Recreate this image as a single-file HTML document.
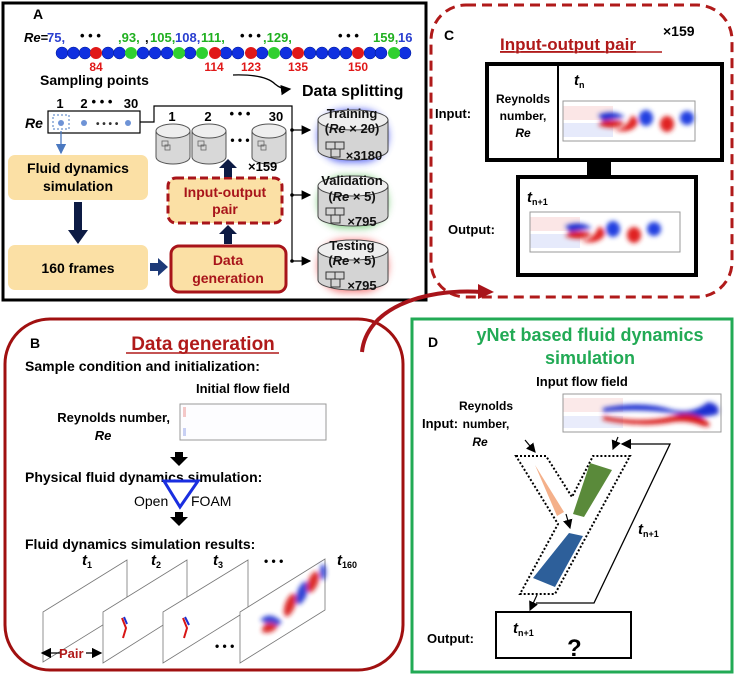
<!DOCTYPE html>
<html><head><meta charset="utf-8"><style>
body{margin:0;background:#fff}
svg{display:block;font-family:"Liberation Sans",Arial,sans-serif;font-weight:bold}
</style></head><body>
<svg width="736" height="677" viewBox="0 0 736 677" xmlns="http://www.w3.org/2000/svg">
<defs>
<filter id="bl" x="-50%" y="-50%" width="200%" height="200%"><feGaussianBlur stdDeviation="2.5"/></filter>
<filter id="gl" x="-30%" y="-30%" width="160%" height="160%"><feGaussianBlur stdDeviation="4"/></filter>
<marker id="ah" markerWidth="8" markerHeight="8" refX="7" refY="4" orient="auto"><path d="M0,0 L8,4 L0,8 z" fill="#000"/></marker>
<marker id="ahb" markerWidth="8" markerHeight="8" refX="7" refY="4" orient="auto"><path d="M0,0 L8,4 L0,8 z" fill="#4a78c0"/></marker>
<g id="flow">
<rect x="0" y="0" width="132" height="40" fill="#fff"/>
<rect x="0" y="5" width="50" height="14" fill="#fbe6e6"/><rect x="0" y="22" width="50" height="14" fill="#e6eafb"/>
<g filter="url(#bl)">
<path d="M35,14 Q50,8 62,16 L40,20 z" fill="#1b2fd0"/>
<path d="M35,24 Q50,30 62,22 Q55,18 40,20z" fill="#d81515"/>
<path d="M50,28 Q62,30 68,16 Q72,12 75,22 Q70,32 55,30z" fill="#e02020"/>
<ellipse cx="83" cy="17" rx="7" ry="8" fill="#2040e0"/>
<ellipse cx="104" cy="23" rx="7" ry="8" fill="#e02020"/>
<ellipse cx="124" cy="17" rx="7" ry="7" fill="#2040e0"/>
</g>
</g>
<g id="flow2">
<rect x="0" y="0" width="158" height="38" fill="#fff"/>
<rect x="0" y="4" width="60" height="14" fill="#fbe9e9"/><rect x="0" y="22" width="60" height="12" fill="#e9ecfb"/>
<g filter="url(#bl)">
<path d="M40,14 Q80,6 110,16 Q130,20 145,8 Q158,10 155,20 Q135,26 115,20 Q80,14 40,18z" fill="#1b2fd0"/>
<path d="M40,22 Q80,30 110,22 Q130,16 145,28 Q150,34 140,32 Q125,26 110,28 Q80,34 40,26z" fill="#d81515"/>
</g>
</g>
<g id="db">
<path d="M0,8 L0,34 A17,7 0 0 0 34,34 L34,8" fill="#d8d8d8" stroke="#555"/>
<ellipse cx="17" cy="8" rx="17" ry="7" fill="#eee" stroke="#555"/>
<rect x="6" y="18" width="6" height="5" fill="none" stroke="#666" stroke-width="0.8"/><rect x="9" y="22" width="5" height="5" fill="none" stroke="#666" stroke-width="0.8"/>
</g>
<g id="bigdb">
<path d="M-35,10 L-35,40 A35,10 0 0 0 35,40 L35,10" fill="#d4d4d4" stroke="#444"/>
<ellipse cx="0" cy="10" rx="35" ry="10" fill="#eee" stroke="#444"/>
<rect x="-27" y="32" width="9" height="7" fill="none" stroke="#333"/><rect x="-18" y="32" width="9" height="7" fill="none" stroke="#333"/><rect x="-22" y="39" width="9" height="8" fill="none" stroke="#333"/>
</g>
</defs>

<!-- PANEL A -->
<rect x="3" y="3" width="423" height="297" fill="#fff" stroke="#000" stroke-width="3"/>
<text x="33" y="19" font-size="14">A</text>
<g font-size="13">
<text x="24" y="42"><tspan font-style="italic">Re</tspan>=</text>
<text x="47" y="42" fill="#2a3fd0">75,</text>
<text x="80" y="40">• • •</text>
<text x="118" y="42" fill="#20b020">,93,</text>
<text x="145" y="42">,</text><text x="150" y="42" fill="#20b020">105,</text>
<text x="175" y="42" fill="#2a3fd0">108,</text>
<text x="201" y="42" fill="#20b020">111,</text>
<text x="240" y="40">• • •</text>
<text x="263" y="42" fill="#20b020">,129,</text>
<text x="338" y="40">• • •</text>
<text x="373" y="42" fill="#20b020">159,</text><text x="398" y="42" fill="#2a3fd0">16</text>
</g>
<g fill="#1030e0" stroke="#001a90" stroke-width="0.5">
<circle cx="62" cy="53" r="6"/><circle cx="73.5" cy="53" r="6"/><circle cx="85" cy="53" r="6"/><circle cx="108" cy="53" r="6"/><circle cx="119.5" cy="53" r="6"/><circle cx="143" cy="53" r="6"/><circle cx="155" cy="53" r="6"/><circle cx="167" cy="53" r="6"/><circle cx="190" cy="53" r="6"/><circle cx="226" cy="53" r="6"/><circle cx="238" cy="53" r="6"/><circle cx="262" cy="53" r="6"/><circle cx="286" cy="53" r="6"/><circle cx="310" cy="53" r="6"/><circle cx="322" cy="53" r="6"/><circle cx="334" cy="53" r="6"/><circle cx="346" cy="53" r="6"/><circle cx="370" cy="53" r="6"/><circle cx="381" cy="53" r="6"/><circle cx="405" cy="53" r="6"/>
</g>
<g fill="#e01818"><circle cx="96" cy="53" r="6"/><circle cx="215" cy="53" r="6"/><circle cx="251" cy="53" r="6"/><circle cx="298" cy="53" r="6"/><circle cx="358" cy="53" r="6"/></g>
<g fill="#30d030"><circle cx="131" cy="53" r="6"/><circle cx="179" cy="53" r="6"/><circle cx="202" cy="53" r="6"/><circle cx="274" cy="53" r="6"/><circle cx="394" cy="53" r="6"/></g>
<g fill="#e01818" font-size="12" text-anchor="middle"><text x="96" y="71">84</text><text x="214" y="71">114</text><text x="251" y="71">123</text><text x="298" y="71">135</text><text x="358" y="71">150</text></g>
<text x="40" y="85" font-size="14">Sampling points</text>
<path d="M233,75 Q265,74 275,84 Q282,90 290,89" fill="none" stroke="#000" stroke-width="1.3" marker-end="url(#ah)"/>
<text x="302" y="96" font-size="16">Data splitting</text>

<g font-size="13" text-anchor="middle"><text x="60" y="108">1</text><text x="84" y="108">2</text><text x="102" y="106">• • •</text><text x="131" y="108">30</text></g>
<text x="25" y="128" font-size="14" font-style="italic">Re</text>
<rect x="48" y="111" width="92" height="22" fill="#fff" stroke="#000" stroke-width="1.2"/>
<rect x="53" y="115" width="16" height="14" fill="none" stroke="#4a78c0" stroke-dasharray="2,2"/>
<g fill="#6e93d6"><circle cx="61" cy="123" r="3"/><circle cx="84" cy="123" r="3"/><circle cx="128" cy="123" r="3"/></g>
<text x="96" y="127" font-size="10" fill="#333">• • • •</text>
<polyline points="140,122 154,122 154,106 292,106 292,262" fill="none" stroke="#000" stroke-width="1.2"/>
<line x1="292" y1="130" x2="310" y2="130" stroke="#000" stroke-width="1.2" marker-end="url(#ah)"/>
<line x1="292" y1="195" x2="310" y2="195" stroke="#000" stroke-width="1.2" marker-end="url(#ah)"/>
<line x1="292" y1="261" x2="310" y2="261" stroke="#000" stroke-width="1.2" marker-end="url(#ah)"/>
<circle cx="292" cy="130" r="1.8"/><circle cx="292" cy="195" r="1.8"/><circle cx="292" cy="261" r="1.8"/>
<line x1="61" y1="131" x2="61" y2="153" stroke="#4a78c0" stroke-width="1.3" marker-end="url(#ahb)"/>

<g font-size="13" text-anchor="middle"><text x="172" y="121">1</text><text x="208" y="121">2</text><text x="240" y="118">• • •</text><text x="276" y="121">30</text></g>
<use href="#db" x="156" y="123"/><use href="#db" x="192" y="123"/><use href="#db" x="252" y="123"/>
<text x="240" y="144" font-size="12" text-anchor="middle">• • •</text>
<text x="248" y="171" font-size="13">×159</text>

<rect x="8" y="155" width="140" height="45" rx="7" fill="#fbe0a5"/>
<text x="78" y="173" font-size="14" text-anchor="middle">Fluid dynamics</text>
<text x="78" y="191" font-size="14" text-anchor="middle">simulation</text>
<rect x="74" y="202" width="8" height="30" fill="#0d1b44"/><path d="M68,230 L88,230 L78,244z" fill="#0d1b44"/>
<rect x="8" y="245" width="140" height="45" rx="7" fill="#fbe0a5"/>
<text x="78" y="273" font-size="14" text-anchor="middle">160 frames</text>
<rect x="150" y="263" width="10" height="8" fill="#1d3a78"/><path d="M158,258 L168,267 L158,276z" fill="#1d3a78"/>
<rect x="171" y="246" width="115" height="46" rx="8" fill="#fbe0a5" stroke="#a8141a" stroke-width="3"/>
<text x="228" y="265" font-size="14" fill="#a8141a" text-anchor="middle" font-weight="normal" style="font-weight:600">Data</text>
<text x="228" y="283" font-size="14" fill="#a8141a" text-anchor="middle">generation</text>
<rect x="224" y="232" width="8" height="12" fill="#0d1b44"/><path d="M219,234 L237,234 L228,225z" fill="#0d1b44"/>
<rect x="168" y="178" width="114" height="45" rx="8" fill="#fbe0a5" stroke="#a8141a" stroke-width="3" stroke-dasharray="8,4"/>
<text x="225" y="197" font-size="14" fill="#a8141a" text-anchor="middle">Input-output</text>
<text x="225" y="214" font-size="14" fill="#a8141a" text-anchor="middle">pair</text>
<rect x="224" y="166" width="8" height="11" fill="#0d1b44"/><path d="M219,168 L237,168 L228,159z" fill="#0d1b44"/>

<rect x="318" y="110" width="70" height="52" rx="26" fill="#4050f0" filter="url(#gl)" opacity="0.9"/>
<use href="#bigdb" x="353" y="110"/>
<rect x="318" y="176" width="70" height="52" rx="26" fill="#60c060" filter="url(#gl)" opacity="0.8"/>
<use href="#bigdb" x="353" y="176"/>
<rect x="318" y="240" width="70" height="52" rx="26" fill="#f05050" filter="url(#gl)" opacity="0.8"/>
<use href="#bigdb" x="353" y="240"/>
<g font-size="13" text-anchor="middle" font-weight="normal" fill="#111" style="font-weight:600">
<text x="352" y="118">Training</text><text x="352" y="133">(<tspan font-style="italic">Re</tspan> × 20)</text><text x="364" y="160">×3180</text>
<text x="352" y="185">Validation</text><text x="352" y="201">(<tspan font-style="italic">Re</tspan> × 5)</text><text x="362" y="226">×795</text>
<text x="352" y="250">Testing</text><text x="352" y="265">(<tspan font-style="italic">Re</tspan> × 5)</text><text x="362" y="290">×795</text>
</g>

<!-- PANEL C -->
<rect x="431" y="5" width="301" height="292" rx="35" fill="none" stroke="#b01a1a" stroke-width="3" stroke-dasharray="10,6"/>
<text x="444" y="40" font-size="14">C</text>
<text x="500" y="50" font-size="17" fill="#b01a1a" text-decoration="underline">Input-output pair</text>
<line x1="500" y1="52" x2="662" y2="52" stroke="#b01a1a" stroke-width="1.5"/>
<text x="663" y="36" font-size="14">×159</text>
<rect x="487" y="64" width="235" height="96" fill="#fff" stroke="#000" stroke-width="4"/>
<line x1="558" y1="64" x2="558" y2="160" stroke="#000" stroke-width="2"/>
<g font-size="12" text-anchor="middle" style="font-weight:600" font-weight="normal"><text x="523" y="103">Reynolds</text><text x="523" y="120">number,</text><text x="523" y="137" font-style="italic">Re</text></g>
<text x="574" y="85" font-size="15" font-style="italic">t<tspan font-size="9" font-style="normal" dy="3">n</tspan></text>
<use href="#flow" x="563" y="101"/><rect x="563" y="101" width="132" height="40" fill="none" stroke="#999"/>
<text x="435" y="118" font-size="13">Input:</text>
<rect x="587" y="160" width="24" height="16" fill="#000"/>
<rect x="518" y="177" width="178" height="98" fill="#fff" stroke="#000" stroke-width="4"/>
<text x="527" y="202" font-size="15" font-style="italic">t<tspan font-size="9" font-style="normal" dy="3">n+1</tspan></text>
<use href="#flow" x="530" y="212" transform="translate(0,0)"/><rect x="530" y="212" width="150" height="40" fill="none" stroke="#999"/>
<text x="448" y="234" font-size="13">Output:</text>

<!-- PANEL B -->
<rect x="5" y="319" width="398" height="351" rx="45" fill="none" stroke="#a01010" stroke-width="3"/>
<text x="30" y="348" font-size="14">B</text>
<text x="203" y="350" font-size="19" fill="#b01a1a" text-anchor="middle">Data generation</text>
<line x1="126" y1="353" x2="279" y2="353" stroke="#b01a1a" stroke-width="1.5"/>
<g font-size="14">
<text x="25" y="371">Sample condition and initialization:</text>
<text x="196" y="393" font-size="13">Initial flow field</text>
<text x="170" y="422" font-size="13" text-anchor="end">Reynolds number,</text>
<text x="103" y="440" font-size="13" font-style="italic" text-anchor="middle">Re</text>
<text x="25" y="482">Physical fluid dynamics simulation:</text>
<text x="25" y="549">Fluid dynamics simulation results:</text>
</g>
<rect x="180" y="404" width="146" height="36" fill="#fdfdff" stroke="#999"/>
<rect x="183" y="407" width="3" height="10" fill="#f4c8c8"/><rect x="183" y="428" width="3" height="8" fill="#c8d0f4"/>
<rect x="175" y="452" width="8" height="6" fill="#000"/><path d="M170,457 L188,457 L179,466z"/>
<path d="M164,481 L198,481 L180,507z" fill="none" stroke="#1a2ee0" stroke-width="3"/>
<text x="134" y="506" font-size="14" font-weight="normal" style="font-weight:500">Open</text>
<text x="191" y="506" font-size="14" font-weight="normal" style="font-weight:500">FOAM</text>
<rect x="175" y="512" width="8" height="6" fill="#000"/><path d="M170,517 L188,517 L179,526z"/>
<g font-size="15" font-style="italic">
<text x="82" y="565">t<tspan font-size="9" font-style="normal" dy="3">1</tspan></text>
<text x="151" y="565">t<tspan font-size="9" font-style="normal" dy="3">2</tspan></text>
<text x="213" y="565">t<tspan font-size="9" font-style="normal" dy="3">3</tspan></text>
<text x="337" y="565">t<tspan font-size="9" font-style="normal" dy="3">160</tspan></text>
</g>
<text x="264" y="565" font-size="12">• • •</text>
<g stroke="#777" stroke-width="0.8" fill="#fff">
<polygon points="43,612 127,560 127,610 43,662"/>
<polygon points="103,612 187,560 187,610 103,663"/>
<polygon points="163,612 248,560 248,610 163,663"/>
<polygon points="240,612 325,559 325,610 240,663"/>
</g>
<path d="M122,618 L126,628 L123,638" stroke="#d81515" stroke-width="2" fill="none"/><path d="M124,617 L127,624" stroke="#1b2fd0" stroke-width="2"/>
<path d="M183,618 L187,628 L184,638" stroke="#d81515" stroke-width="2" fill="none"/><path d="M185,617 L189,625" stroke="#1b2fd0" stroke-width="2"/>
<g filter="url(#bl)" opacity="0.9">
<path d="M260,620 Q270,610 282,622 L275,628z" fill="#1b2fd0"/>
<path d="M262,630 Q265,618 278,626 Q272,635 262,632z" fill="#d81515"/>
<ellipse cx="290" cy="605" rx="5" ry="12" fill="#d81515" transform="rotate(20 290 605)"/>
<ellipse cx="302" cy="593" rx="5" ry="12" fill="#1b2fd0" transform="rotate(20 302 593)"/>
<ellipse cx="313" cy="582" rx="5" ry="11" fill="#d81515" transform="rotate(20 313 582)"/>
<ellipse cx="323" cy="572" rx="3" ry="8" fill="#1b2fd0"/>
</g>
<text x="215" y="650" font-size="12">• • •</text>
<line x1="60" y1="653" x2="42" y2="653" stroke="#000" stroke-width="1.3" marker-end="url(#ah)"/>
<line x1="86" y1="653" x2="101" y2="653" stroke="#000" stroke-width="1.3" marker-end="url(#ah)"/>
<text x="59" y="658" font-size="13" fill="#b01a1a">Pair</text>

<!-- curved arrow -->
<path d="M362,352 C366,310 420,288 482,292" fill="none" stroke="#a8141a" stroke-width="4"/>
<path d="M478,284 L494,292 L478,299z" fill="#a8141a"/>

<!-- PANEL D -->
<rect x="412" y="319" width="320" height="353" fill="none" stroke="#22aa55" stroke-width="3"/>
<text x="428" y="347" font-size="14">D</text>
<text x="590" y="341" font-size="18" fill="#22aa55" text-anchor="middle">yNet based fluid dynamics</text>
<text x="590" y="364" font-size="18" fill="#22aa55" text-anchor="middle">simulation</text>
<text x="582" y="386" font-size="13" text-anchor="middle">Input flow field</text>
<use href="#flow2" x="563" y="394"/><rect x="563" y="394" width="158" height="38" fill="none" stroke="#999"/>
<text x="422" y="428" font-size="13">Input:</text>
<g font-size="12" text-anchor="middle"><text x="486" y="410">Reynolds</text><text x="486" y="428">number,</text><text x="480" y="446" font-style="italic">Re</text></g>
<line x1="525" y1="440" x2="535" y2="452" stroke="#000" stroke-width="1.2" marker-end="url(#ah)"/>
<line x1="618" y1="437" x2="613" y2="449" stroke="#000" stroke-width="1.2" marker-end="url(#ah)"/>
<polygon points="516,456 546,456 572,497 593,456 630,456 555,594 520,594 558,524" fill="none" stroke="#000" stroke-width="2" stroke-dasharray="2,2"/>
<polygon points="535,465 557,516 564,512" fill="#f4b08a"/>
<polygon points="590,463 612,470 584,517 573,514" fill="#5a8a3a"/>
<polygon points="569,533 583,536 555,587 533,578" fill="#2d5f9a"/>
<line x1="566" y1="514" x2="570" y2="528" stroke="#000" stroke-width="1.2" marker-end="url(#ah)"/>
<polyline points="536,603 594,603 670,444 622,444" fill="none" stroke="#000" stroke-width="1.3" marker-end="url(#ah)"/>
<line x1="537" y1="595" x2="530" y2="610" stroke="#000" stroke-width="1.2" marker-end="url(#ah)"/>
<text x="638" y="534" font-size="15" font-style="italic">t<tspan font-size="9" font-style="normal" dy="3">n+1</tspan></text>
<rect x="496" y="612" width="135" height="46" fill="#fff" stroke="#000" stroke-width="2"/>
<text x="513" y="633" font-size="15" font-style="italic">t<tspan font-size="9" font-style="normal" dy="3">n+1</tspan></text>
<text x="567" y="656" font-size="24">?</text>
<text x="427" y="643" font-size="13">Output:</text>
</svg>
</body></html>
